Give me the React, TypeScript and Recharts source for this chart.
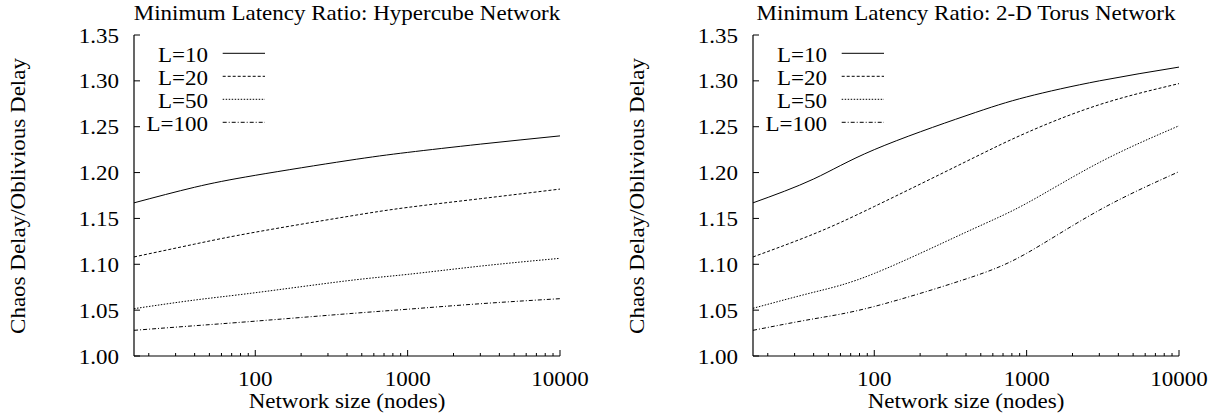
import React from 'react';
import { LineChart, Line, XAxis, YAxis, Legend } from 'recharts';

// network sizes (nodes) where each curve was sampled
const sizes = [16, 40, 100, 400, 1000, 3000, 10000];

// hypercube ratios per message length L
const cubeL10 = [1.167, 1.184, 1.197, 1.213, 1.222, 1.231, 1.240];
const cubeL20 = [1.108, 1.122, 1.135, 1.152, 1.162, 1.1715, 1.182];
const cubeL50 = [1.0516, 1.061, 1.069, 1.082, 1.089, 1.098, 1.1065];
const cubeL100 = [1.028, 1.033, 1.038, 1.046, 1.051, 1.057, 1.0625];

// 2-D torus ratios per message length L
const torusL10 = [1.167, 1.193, 1.225, 1.262, 1.2825, 1.300, 1.315];
const torusL20 = [1.108, 1.133, 1.163, 1.212, 1.2435, 1.274, 1.297];
const torusL50 = [1.052, 1.0695, 1.090, 1.135, 1.1665, 1.211, 1.251];
const torusL100 = [1.028, 1.0405, 1.054, 1.084, 1.112, 1.159, 1.201];

const yTicks = [1.0, 1.05, 1.1, 1.15, 1.2, 1.25, 1.3, 1.35];
const xMajor = [100, 1000, 10000];
const xTicks = [20, 30, 40, 50, 60, 70, 80, 90, 100, 200, 300, 400, 500, 600, 700, 800, 900,
    1000, 2000, 3000, 4000, 5000, 6000, 7000, 8000, 9000, 10000];

const series = [
    { key: 'l10', name: 'L=10', dash: undefined },
    { key: 'l20', name: 'L=20', dash: '3 2' },
    { key: 'l50', name: 'L=50', dash: '1.5 1.5' },
    { key: 'l100', name: 'L=100', dash: '4 2 1 2' },
];

const FONT = '"Liberation Serif", "Times New Roman", serif';
const STRETCH = 1.15;

// plot box inside each 600x418 panel
const W = 600;
const H = 418;
const PL = 134;
const PR = 560;
const PT = 35;
const PB = 356;

function buildRows(l10: number[], l20: number[], l50: number[], l100: number[]) {
    return sizes.map((n, i) => ({ n, l10: l10[i], l20: l20[i], l50: l50[i], l100: l100[i] }));
}

function Txt({ x, y, anchor, vertical, children }: any) {
    const t = `translate(${x},${y})${vertical ? ' rotate(-90)' : ''} scale(${STRETCH},1)`;
    return (
        <text transform={t} textAnchor={anchor} fill="#000"
            style={{ fontFamily: FONT, fontSize: 20 }}>
            {children}
        </text>
    );
}

function BottomTick({ x, payload }: any) {
    const major = xMajor.includes(payload.value);
    return (
        <g>
            <line x1={x} x2={x} y1={PB} y2={PB - (major ? 6 : 3)} stroke="#000" />
            {major && <Txt x={x} y={PB + 30} anchor="middle">{payload.value}</Txt>}
        </g>
    );
}

function TopTick({ x, payload }: any) {
    const major = xMajor.includes(payload.value);
    return <line x1={x} x2={x} y1={PT} y2={PT + (major ? 6 : 3)} stroke="#000" />;
}

function LeftTick({ y, payload }: any) {
    return (
        <g>
            <line x1={PL} x2={PL + 6} y1={y} y2={y} stroke="#000" />
            <Txt x={PL - 15} y={y + 7.5} anchor="end">{payload.value.toFixed(2)}</Txt>
        </g>
    );
}

function RightTick({ y }: any) {
    return <line x1={PR} x2={PR - 6} y1={y} y2={y} stroke="#000" />;
}

function Key() {
    return (
        <svg width={150} height={100}>
            {series.map((s, i) => (
                <g key={s.key}>
                    <Txt x={68} y={21.7 + 23 * i} anchor="end">{s.name}</Txt>
                    <line x1={82.7} x2={125} y1={13.3 + 23 * i} y2={13.3 + 23 * i}
                        stroke="#000" strokeDasharray={s.dash} />
                </g>
            ))}
        </svg>
    );
}

function Panel({ title, rows, left }: { title: string; rows: any[]; left: number }) {
    const frame = { stroke: '#000', strokeWidth: 1.2 };
    return (
        <div style={{ position: 'absolute', left, top: 0, width: W, height: H }}>
            <LineChart width={W} height={H} data={rows}
                margin={{ top: PT, right: W - PR, bottom: H - PB - 30, left: 0 }}>
                <XAxis xAxisId="b" dataKey="n" type="number" scale="log" domain={[16, 10000]}
                    allowDataOverflow ticks={xTicks} interval={0} height={30}
                    tickSize={0} tickMargin={0} axisLine={frame} tickLine={false} tick={<BottomTick />} />
                <XAxis xAxisId="t" orientation="top" dataKey="n" type="number" scale="log"
                    domain={[16, 10000]} allowDataOverflow ticks={xTicks} interval={0} height={0}
                    tickSize={0} tickMargin={0} axisLine={frame} tickLine={false} tick={<TopTick />} />
                <YAxis yAxisId="l" type="number" domain={[1, 1.35]} ticks={yTicks} interval={0}
                    width={PL} tickSize={0} tickMargin={0} axisLine={frame} tickLine={false}
                    tick={<LeftTick />} />
                <YAxis yAxisId="r" orientation="right" type="number" domain={[1, 1.35]} ticks={yTicks}
                    interval={0} width={0} tickSize={0} tickMargin={0} axisLine={frame}
                    tickLine={false} tick={<RightTick />} />
                {series.map((s) => (
                    <Line key={s.key} xAxisId="b" yAxisId="l" type="natural" dataKey={s.key} name={s.name}
                        stroke="#000" strokeWidth={1} strokeDasharray={s.dash} dot={false}
                        isAnimationActive={false} />
                ))}
                <Legend layout="horizontal" align="center" verticalAlign="middle" content={<Key />}
                    wrapperStyle={{ left: 140, top: 40, width: 150, height: 100 }} />
            </LineChart>
            <svg width={W} height={H} style={{ position: 'absolute', left: 0, top: 0, pointerEvents: 'none' }}>
                <Txt x={(PL + PR) / 2} y={20} anchor="middle">{title}</Txt>
                <Txt x={(PL + PR) / 2} y={408} anchor="middle">Network size (nodes)</Txt>
                <Txt x={25} y={196} anchor="middle" vertical>Chaos Delay/Oblivious Delay</Txt>
            </svg>
        </div>
    );
}

export default function App() {
    return (
        <div style={{ position: 'absolute', left: 0, top: 0, width: 1221, height: 418, background: '#fff' }}>
            <Panel title="Minimum Latency Ratio: Hypercube Network"
                rows={buildRows(cubeL10, cubeL20, cubeL50, cubeL100)} left={0} />
            <Panel title="Minimum Latency Ratio: 2-D Torus Network"
                rows={buildRows(torusL10, torusL20, torusL50, torusL100)} left={619} />
        </div>
    );
}
